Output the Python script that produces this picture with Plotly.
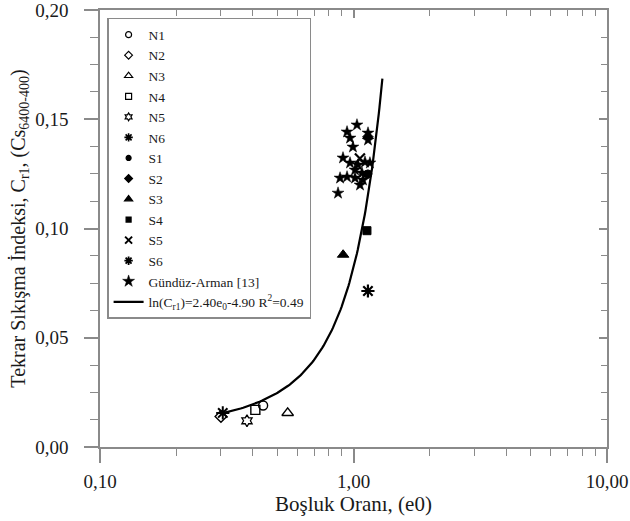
import numpy as np
import plotly.graph_objects as go

# ---- data ----
n1_x, n1_y = [0.44], [0.019]
n2_x, n2_y = [0.30], [0.014]
n3_x, n3_y = [0.55], [0.0156]
n4_x, n4_y = [0.41], [0.017]
n5_x, n5_y = [0.38], [0.012]
n6_x, n6_y = [0.305], [0.0156]
s1_x, s1_y = [1.14], [0.125]
s2_x, s2_y = [1.14], [0.142]
s3_x, s3_y = [0.91], [0.088]
s4_x, s4_y = [1.13], [0.099]
s5_x, s5_y = [1.06], [0.132]
s6_x, s6_y = [1.14], [0.0714]
ga_x = [1.032, 0.943, 0.969, 1.141, 1.141, 0.995, 0.909, 0.969, 1.042, 1.110,
         1.161, 1.014, 1.080, 0.885, 0.943, 1.014, 1.090, 1.061, 0.869]
ga_y = [0.1474, 0.1442, 0.1414, 0.1437, 0.1405, 0.1373, 0.1323, 0.1300, 0.1291, 0.1304,
         0.1300, 0.1268, 0.1254, 0.1231, 0.1236, 0.1231, 0.1222, 0.1199, 0.1162]

fit_a, fit_b = 2.40, -4.90
fit_e_min, fit_e_max = 0.30, 1.30

x_tickvals = [0.1, 1, 10]
x_ticktext = ["0,10", "1,00", "10,00"]
x_minorvals = [0.2, 0.3, 0.4, 0.5, 0.6, 0.7, 0.8, 0.9, 2, 3, 4, 5, 6, 7, 8, 9]
y_tickvals = [0.0, 0.05, 0.10, 0.15, 0.20]
y_ticktext = ["0,00", "0,05", "0,10", "0,15", "0,20"]

FONT = "Liberation Serif"
AXC = "#8a8a8a"
TXT = "#1a1a1a"

fig = go.Figure()

def add(name, x, y, symbol, size=8, lw=1.4, lsize=6, llw=1.2):
    # plotted marks
    fig.add_trace(go.Scatter(
        x=x, y=y, mode="markers", name=name, showlegend=False, legendgroup=name,
        marker=dict(symbol=symbol, size=size, color="black",
                    line=dict(color="black", width=lw))))
    # small legend swatch
    fig.add_trace(go.Scatter(
        x=[None], y=[None], mode="markers", name=name, legendgroup=name,
        marker=dict(symbol=symbol, size=lsize, color="black",
                    line=dict(color="black", width=llw))))

add("N1", n1_x, n1_y, "circle-open", 9, 1.4, 6)
add("N2", n2_x, n2_y, "diamond-open", 9, 1.4, 6)
add("N3", n3_x, n3_y, "triangle-up-open", 10, 1.5, 7)
add("N4", n4_x, n4_y, "square-open", 9, 1.4, 6)
add("N5", n5_x, n5_y, "hexagram-open", 9, 1.3, 6)
add("N6", n6_x, n6_y, "asterisk-open", 11, 2.0, 7, 1.6)
add("S1", s1_x, s1_y, "circle", 8, 1, 5)
add("S2", s2_x, s2_y, "diamond", 8, 1, 6)
add("S3", s3_x, s3_y, "triangle-up", 10, 1, 7)
add("S4", s4_x, s4_y, "square", 8, 1, 5)
add("S5", s5_x, s5_y, "x-thin-open", 10, 2.2, 7, 2)
add("S6", s6_x, s6_y, "asterisk-open", 11, 2.2, 7, 1.8)
add("Gündüz-Arman [13]", ga_x, ga_y, "star", 9, 0.5, 9, 0.5)

e_fit = np.linspace(fit_e_min, fit_e_max, 120)
c_fit = np.exp(fit_a * e_fit + fit_b)
fig.add_trace(go.Scatter(
    x=e_fit, y=c_fit, mode="lines",
    name="ln(C<sub>r1</sub>)=2.40e<sub>0</sub>-4.90 R<sup>2</sup>=0.49",
    line=dict(color="black", width=2.2)))

# dummy trace for mirrored (inward) top/right ticks
fig.add_trace(go.Scatter(x=[None], y=[None], xaxis="x2", yaxis="y2",
                         showlegend=False, hoverinfo="skip"))

fig.update_layout(
    width=630, height=521,
    margin=dict(l=100, r=23, t=10, b=74),
    paper_bgcolor="white", plot_bgcolor="white",
    font=dict(family=FONT, color=TXT),
    showlegend=True,
    legend=dict(x=0.014, y=0.982, xanchor="left", yanchor="top",
                bgcolor="white", bordercolor=AXC, borderwidth=1.5,
                font=dict(family=FONT, size=13.5, color=TXT),
                itemwidth=30, tracegroupgap=0, entrywidth=215, entrywidthmode="pixels"),
    xaxis=dict(type="log", range=[-1, 1], tickvals=x_tickvals, ticktext=x_ticktext,
               ticks="outside", ticklen=14, tickwidth=1.5, tickcolor=AXC,
               minor=dict(tickvals=x_minorvals, ticks="outside", ticklen=7, tickwidth=1.2,
                          tickcolor=AXC, showgrid=False),
               showline=True, linecolor=AXC, linewidth=1.5, showgrid=False, zeroline=False,
               tickfont=dict(family=FONT, size=19, color=TXT), ticklabelstandoff=2,
               ticklabeloverflow="allow", automargin=False,
               title=dict(text="Boşluk Oranı, (e0)", font=dict(family=FONT, size=21, color=TXT),
                          standoff=2)),
    yaxis=dict(range=[0, 0.20], tickvals=y_tickvals, ticktext=y_ticktext,
               ticks="outside", ticklen=14, tickwidth=1.5, tickcolor=AXC,
               minor=dict(dtick=0.0125, ticks="outside", ticklen=8, tickwidth=1.2,
                          tickcolor=AXC, showgrid=False),
               showline=True, linecolor=AXC, linewidth=1.5, showgrid=False, zeroline=False,
               tickfont=dict(family=FONT, size=19, color=TXT), ticklabelstandoff=12,
               ticklabeloverflow="allow", automargin=False,
               title=dict(text="Tekrar Sıkışma İndeksi, C<sub>r1</sub>, (Cs<sub>6400-400</sub>)",
                          font=dict(family=FONT, size=20, color=TXT), standoff=4)),
    xaxis2=dict(type="log", range=[-1, 1], overlaying="x", side="top", anchor="y2",
                tickvals=x_tickvals, showticklabels=False,
                ticks="inside", ticklen=8, tickwidth=1.5, tickcolor=AXC,
                minor=dict(tickvals=x_minorvals, ticks="inside", ticklen=6, tickwidth=1.2,
                           tickcolor=AXC, showgrid=False),
                showline=True, linecolor=AXC, linewidth=1.5, showgrid=False, zeroline=False),
    yaxis2=dict(range=[0, 0.20], overlaying="y", side="right", anchor="x2",
                tickvals=y_tickvals, showticklabels=False,
                ticks="inside", ticklen=8, tickwidth=1.5, tickcolor=AXC,
                minor=dict(dtick=0.0125, ticks="inside", ticklen=6, tickwidth=1.2,
                           tickcolor=AXC, showgrid=False),
                showline=True, linecolor=AXC, linewidth=1.5, showgrid=False, zeroline=False),
)

fig.write_html("out.html")
